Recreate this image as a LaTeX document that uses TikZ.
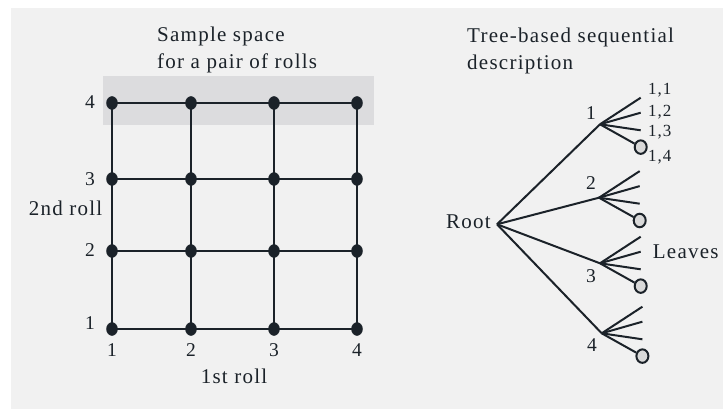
\documentclass[tikz,border=0pt]{standalone}
\usepackage{fontspec}
\setmainfont{Liberation Serif}[LetterSpace=6]
\usetikzlibrary{shapes.geometric,calc}
\definecolor{ink}{HTML}{1B2229}
\definecolor{panel}{HTML}{F1F1F1}
\definecolor{band}{HTML}{DCDCDE}
\definecolor{leaffill}{HTML}{D9D9D9}
\begin{document}
\begin{tikzpicture}[x=1pt,y=-1pt,
  wire/.style={draw=ink,line width=2pt},
  gdot/.style={ellipse,fill=ink,draw=ink,minimum width=11pt,minimum height=13pt,inner sep=0pt},
  leafend/.style={ellipse,fill=leaffill,draw=ink,line width=2pt,minimum width=12pt,minimum height=13.5pt,inner sep=0pt},
  txt/.style={text=ink,inner sep=0pt,font=\fontsize{21}{27}\selectfont},
  num/.style={text=ink,inner sep=0pt,font=\fontsize{19.5}{23}\selectfont},
  small/.style={text=ink,inner sep=0pt,font=\fontsize{17}{20}\selectfont}]
\useasboundingbox (0,0) rectangle (723,409);
\fill[white] (0,0) rectangle (723,409);
\fill[panel] (11,8) rectangle (723,409);

% highlighted top row of the sample space
\fill[band] (103,76) rectangle (374,125);

% grid coordinates: (column, row)
\foreach \c/\x in {1/112,2/191,3/274,4/357}
  \foreach \r/\y in {1/329,2/251,3/179,4/103}
    \coordinate (p\c\r) at (\x,\y);

\foreach \r in {1,2,3,4} \draw[wire] (p1\r) -- (p4\r);
\foreach \c in {1,2,3,4} \draw[wire] (p\c4) -- (p\c1);
\foreach \c in {1,2,3,4}
  \foreach \r in {1,2,3,4}
    \node[gdot] (d\c\r) at (p\c\r) {};

% axis labels
\node[num,anchor=east] (ry4) at (95,102) {4};
\node[num,anchor=east] (ry3) at (95,179) {3};
\node[num,anchor=east] (ry2) at (95,250) {2};
\node[num,anchor=east] (ry1) at (95,323) {1};
\node[num] (cx1) at (112,350) {1};
\node[num] (cx2) at (191,350) {2};
\node[num] (cx3) at (274,350) {3};
\node[num] (cx4) at (357,350) {4};
\node[txt,anchor=base] (ylab) at (65.5,215) {2nd roll};
\node[txt,anchor=base] (xlab) at (234,383) {1st roll};

% titles
\node[txt,anchor=base west] (t1a) at (157,42) {Sample space};
\node[txt,anchor=base west] (t1b) at (157,69) {for a pair of rolls};
\node[txt,anchor=base west] (t2a) at (467,43) {Tree-based sequential};
\node[txt,anchor=base west] (t2b) at (467,70) {description};

% tree
\coordinate (root) at (497,224.3);
\coordinate (n1) at (600,124.3);
\coordinate (n2) at (599,197.7);
\coordinate (n3) at (600,263.3);
\coordinate (n4) at (601.7,333.3);
\node[txt,anchor=base east] (rootlbl) at (491,228) {Root};

\foreach \k in {1,2,3,4} {
  \draw[wire] (root) -- (n\k);
  \coordinate (n\k a) at ($(n\k)+(40.7,-26.6)$);
  \coordinate (n\k b) at ($(n\k)+(40.7,-11.6)$);
  \coordinate (n\k c) at ($(n\k)+(40.7,6)$);
  \node[leafend] (n\k d) at ($(n\k)+(40.7,22.8)$) {};
  \draw[wire] (n\k) -- (n\k a);
  \draw[wire] (n\k) -- (n\k b);
  \draw[wire] (n\k) -- (n\k c);
  \draw[wire] (n\k) -- (n\k d);
}

\node[num] (l1) at (591,113) {1};
\node[num] (l2) at (591,182.7) {2};
\node[num] (l3) at (591,276) {3};
\node[num] (l4) at (592,345) {4};

\node[small,anchor=base west] (o11) at (648,95) {1,1};
\node[small,anchor=base west] (o12) at (648,117) {1,2};
\node[small,anchor=base west] (o13) at (648,137) {1,3};
\node[small,anchor=base west] (o14) at (648,161) {1,4};
\node[txt,anchor=west] (leaves) at (652.7,251.7) {Leaves};
\end{tikzpicture}
\end{document}
